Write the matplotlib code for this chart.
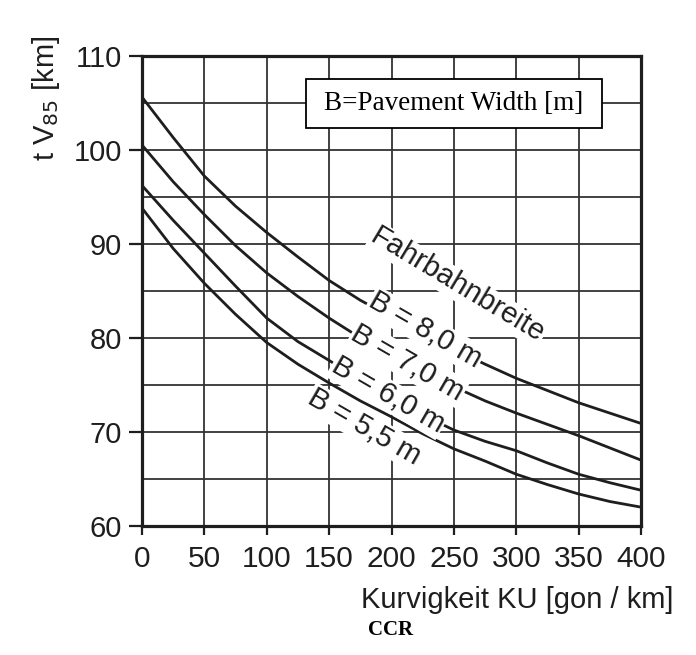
import matplotlib.pyplot as plt
from matplotlib.patches import Rectangle
from matplotlib.ticker import MultipleLocator

plt.rcParams['font.family'] = ['Liberation Sans', 'DejaVu Sans']

# curvature KU [gon/km]
ku = [0, 25, 50, 75, 100, 125, 150, 175, 200, 225, 250, 275, 300, 325, 350, 375, 400]

# V85, one list per pavement width
v85_8_0 = [105.6, 101.3, 97.2, 94.0, 91.2, 88.6, 86.1, 84.0, 82.2, 80.4, 78.8, 77.2, 75.7, 74.4, 73.1, 72.0, 70.9]
v85_7_0 = [100.5, 96.6, 93.1, 89.8, 86.9, 84.4, 82.1, 80.0, 78.1, 76.4, 74.8, 73.3, 72.0, 70.8, 69.6, 68.3, 67.0]
v85_6_0 = [96.2, 92.5, 89.0, 85.5, 82.1, 79.6, 77.6, 75.5, 73.6, 71.8, 70.2, 69.0, 68.0, 66.7, 65.5, 64.6, 63.8]
v85_5_5 = [93.8, 89.5, 85.8, 82.5, 79.5, 77.2, 75.2, 73.3, 71.6, 69.8, 68.2, 66.9, 65.5, 64.4, 63.4, 62.6, 62.0]

curve_labels = ["B = 8,0 m", "B = 7,0 m", "B = 6,0 m", "B = 5,5 m"]
x_ticks = [0, 50, 100, 150, 200, 250, 300, 350, 400]
y_ticks = [60, 70, 80, 90, 100, 110]

ink = '#1e1e1e'

fig = plt.figure(figsize=(6.96, 6.55), dpi=100)
ax = fig.add_axes([0.204, 0.197, 0.717, 0.718])

for v in [v85_8_0, v85_7_0, v85_6_0, v85_5_5]:
    ax.plot(ku, v, color=ink, lw=2.0, zorder=3, solid_capstyle='butt')

ax.set_xlim(0, 400)
ax.set_ylim(60, 110)
ax.set_xticks(x_ticks)
ax.set_yticks(y_ticks)
ax.yaxis.set_minor_locator(MultipleLocator(5))
ax.grid(True, which='both', color='#333333', lw=1.3, zorder=1)
ax.set_axisbelow(True)

for s in ax.spines.values():
    s.set_linewidth(2.3)
    s.set_color(ink)

ax.tick_params(axis='y', which='major', length=9.5, width=1.6, color=ink,
               labelsize=21, pad=5, labelcolor=ink)
ax.tick_params(axis='y', which='minor', length=0)
ax.tick_params(axis='x', which='major', length=6.5, width=1.6, color=ink,
               labelsize=21.5, pad=7, labelcolor=ink)

# curve labels sitting on / under the curves
label_pos = [(227, 80.8), (213, 77.3), (197, 73.9), (178, 70.5)]
for txt, (lx, ly) in zip(curve_labels, label_pos):
    ax.text(lx, ly, txt, rotation=-30, rotation_mode='anchor', ha='center', va='center',
            fontsize=21, color=ink, zorder=4,
            bbox=dict(facecolor='white', edgecolor='none', pad=0.8))

ax.text(253, 85.6, "Fahrbahnbreite", rotation=-31, rotation_mode='anchor',
        ha='center', va='center', fontsize=21, color=ink, zorder=4,
        bbox=dict(facecolor='white', edgecolor='none', pad=0.8))

# legend-like box
fig.patches.append(Rectangle((306 / 696, 1 - 128 / 655), 296 / 696, 49 / 655,
                             transform=fig.transFigure, facecolor='white',
                             edgecolor='black', lw=1.3, zorder=5))
fig.text(454 / 696, 1 - 103.5 / 655, "B=Pavement Width [m]", family='Liberation Serif',
         fontsize=19.5, ha='center', va='center', zorder=6)

# axis titles
fig.text(46 / 696, 1 - 98 / 655, "t V$_{85}$ [km]", rotation=90, ha='center', va='center',
         fontsize=21, color=ink)
fig.text(517 / 696, 1 - 600 / 655, "Kurvigkeit KU [gon / km]", ha='center', va='center',
         fontsize=21, color=ink)

fig.text(391 / 696, 1 - 630 / 655, "CCR", family='Liberation Serif', fontweight='bold',
         fontsize=15, ha='center', va='center')

fig.savefig('out.png', dpi=100, facecolor='white')
